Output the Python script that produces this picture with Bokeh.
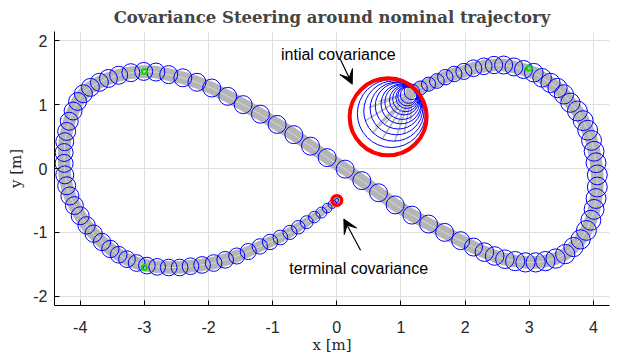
from bokeh.plotting import figure
from bokeh.models import Range1d, FixedTicker, Label, Arrow, VeeHead, ColumnDataSource
from bokeh.embed import file_html
from bokeh.resources import INLINE

# ---------------- data ----------------
# initial covariance: nested shrinking circles
init_x = [0.80, 0.85, 0.89, 0.93, 0.96, 1.00, 1.02, 1.05, 1.07, 1.09, 1.10, 1.12]
init_y = [0.81, 0.86, 0.90, 0.94, 0.98, 1.01, 1.04, 1.07, 1.09, 1.11, 1.13, 1.15]
init_r = [0.60, 0.53, 0.47, 0.41, 0.36, 0.31, 0.27, 0.23, 0.20, 0.17, 0.15, 0.13]

# covariance circles along the trajectory (centres and radii)
path_x = [1.17, 1.30, 1.43, 1.56, 1.69, 1.83, 1.98, 2.13, 2.29, 2.45, 2.60, 2.76, 2.91, 3.07,
          3.20, 3.33, 3.44, 3.54, 3.64, 3.75, 3.84, 3.91, 3.97, 4.01, 4.04, 4.06, 4.06, 4.04,
          4.01, 3.96, 3.89, 3.80, 3.69, 3.56, 3.41, 3.25, 3.10, 2.94, 2.78, 2.62, 2.46, 2.30,
          2.13, 1.93, 1.68, 1.43, 1.17, 0.91, 0.65, 0.39, 0.13, -0.15, -0.41, -0.67, -0.93,
          -1.19, -1.46, -1.70, -1.95, -2.18, -2.40, -2.62, -2.82, -3.01, -3.21, -3.40, -3.56,
          -3.70, -3.84, -3.95, -4.04, -4.11, -4.17, -4.21, -4.24, -4.25, -4.25, -4.24, -4.21,
          -4.16, -4.09, -4.00, -3.90, -3.79, -3.66, -3.53, -3.40, -3.27, -3.12, -2.96, -2.80,
          -2.62, -2.45, -2.28, -2.10, -1.92, -1.74, -1.56, -1.38, -1.20, -1.04, -0.88, -0.73,
          -0.60, -0.47, -0.35, -0.24, -0.15, -0.07]
path_y = [1.20, 1.26, 1.32, 1.37, 1.43, 1.48, 1.52, 1.57, 1.60, 1.62, 1.62, 1.59, 1.55, 1.50,
          1.42, 1.34, 1.26, 1.16, 1.03, 0.90, 0.75, 0.60, 0.44, 0.27, 0.09, -0.10, -0.29, -0.47,
          -0.64, -0.81, -0.97, -1.11, -1.23, -1.34, -1.41, -1.45, -1.47, -1.47, -1.45, -1.42,
          -1.37, -1.31, -1.23, -1.13, -1.00, -0.87, -0.73, -0.57, -0.38, -0.19, -0.01, 0.17,
          0.35, 0.53, 0.69, 0.85, 1.00, 1.13, 1.26, 1.35, 1.42, 1.47, 1.51, 1.52, 1.50, 1.46,
          1.41, 1.35, 1.27, 1.17, 1.05, 0.90, 0.74, 0.58, 0.42, 0.25, 0.08, -0.10, -0.27, -0.43,
          -0.58, -0.74, -0.89, -1.02, -1.15, -1.26, -1.35, -1.42, -1.48, -1.52, -1.54, -1.55,
          -1.55, -1.53, -1.51, -1.48, -1.43, -1.37, -1.30, -1.22, -1.15, -1.08, -1.00, -0.92,
          -0.84, -0.76, -0.69, -0.62, -0.56]
path_r = [0.12, 0.11, 0.11, 0.115, 0.12, 0.12, 0.125, 0.13, 0.13, 0.135, 0.14, 0.14, 0.14, 0.145,
          0.145, 0.15, 0.15, 0.15, 0.15, 0.155, 0.155, 0.155, 0.155, 0.155, 0.155, 0.155, 0.155,
          0.155, 0.155, 0.155, 0.155, 0.15, 0.15, 0.15, 0.15, 0.15, 0.15, 0.15, 0.15, 0.145,
          0.145, 0.145, 0.14, 0.14, 0.14, 0.14, 0.14, 0.14, 0.14, 0.14, 0.14, 0.14, 0.14, 0.14,
          0.14, 0.14, 0.14, 0.14, 0.14, 0.14, 0.14, 0.14, 0.14, 0.14, 0.14, 0.14, 0.14, 0.14,
          0.14, 0.14, 0.14, 0.14, 0.14, 0.14, 0.14, 0.14, 0.14, 0.14, 0.14, 0.14, 0.14, 0.14,
          0.135, 0.135, 0.135, 0.135, 0.13, 0.13, 0.13, 0.13, 0.13, 0.13, 0.13, 0.13, 0.13,
          0.13, 0.13, 0.125, 0.125, 0.12, 0.12, 0.115, 0.11, 0.105, 0.10, 0.09, 0.085, 0.075,
          0.065, 0.055]

# Monte Carlo samples leaving the initial covariance
sample_x = [0.45, 0.55, 0.70, 0.90, 1.05, 0.50, 0.65, 0.75, 0.95, 1.15, 0.60, 0.85]
sample_y = [0.75, 0.55, 0.45, 0.42, 0.55, 0.95, 1.05, 0.70, 0.70, 0.75, 0.65, 0.95]

# waypoints (green)
way_x = [-3.0, -3.0, 3.0]
way_y = [1.52, -1.55, 1.57]

# terminal covariance
term_x = [0.0]
term_y = [-0.50]
term_r = [0.075]

x_ticks = [-4, -3, -2, -1, 0, 1, 2, 3, 4]
x_tick_labels = ["-4", "-3", "-2", "-1", "0", "1", "2", "3", "4"]
y_ticks = [-2, -1, 0, 1, 2]
y_tick_labels = ["-2", "-1", "0", "1", "2"]

# ---------------- figure ----------------
p = figure(width=612, height=357, x_range=Range1d(-4.4, 4.25), y_range=Range1d(-2.145, 2.145),
           output_backend="svg", toolbar_location=None,
           min_border_left=54, min_border_right=3, min_border_top=30, min_border_bottom=52)
p.outline_line_color = None
p.background_fill_color = "white"

p.title.text = "Covariance Steering around nominal trajectory"
p.title.text_font = "DejaVu Serif"
p.title.text_font_style = "bold"
p.title.text_font_size = "16.5px"
p.title.align = "center"
p.title.standoff = 10

for ax in (p.xaxis[0], p.yaxis[0]):
    ax.axis_line_color = "black"
    ax.axis_line_width = 1
    ax.major_tick_in = 5
    ax.major_tick_out = 0
    ax.minor_tick_line_color = None
    ax.major_tick_line_color = "black"
    ax.major_label_text_font = "Liberation Sans"
    ax.major_label_text_font_size = "16px"
    ax.major_label_text_color = "#262626"
    ax.axis_label_text_font = "DejaVu Serif"
    ax.axis_label_text_font_style = "normal"
    ax.axis_label_text_font_size = "15px"
    ax.axis_label_text_color = "#262626"

p.xaxis.ticker = FixedTicker(ticks=x_ticks)
p.yaxis.ticker = FixedTicker(ticks=y_ticks)
p.xaxis.major_label_overrides = dict(zip(x_ticks, x_tick_labels))
p.yaxis.major_label_overrides = dict(zip(y_ticks, y_tick_labels))
p.xaxis.axis_label = "x [m]"
p.yaxis.axis_label = "y [m]"
p.xaxis.major_label_standoff = 15
p.yaxis.major_label_standoff = 7
p.xaxis.axis_label_standoff = 0
p.yaxis.axis_label_standoff = 5

p.xgrid.ticker = FixedTicker(ticks=x_ticks)
p.ygrid.ticker = FixedTicker(ticks=y_ticks)
p.grid.grid_line_color = "#dfdfdf"
p.grid.grid_line_width = 1

# gray band of sampled trajectories: constant-width main part, narrowing tail
n_main = 98
p.line(x=path_x[:n_main], y=path_y[:n_main], line_width=12.5, line_color="#b5b5b5", line_join="round", line_cap="round")
tail_xs, tail_ys, tail_w = [], [], []
tail_x = path_x[n_main - 1:] + term_x
tail_y = path_y[n_main - 1:] + term_y
tail_r = path_r[n_main - 1:] + term_r
for i in range(len(tail_x) - 1):
    tail_xs.append([tail_x[i], tail_x[i + 1]])
    tail_ys.append([tail_y[i], tail_y[i + 1]])
    tail_w.append(88 * 0.5 * (tail_r[i] + tail_r[i + 1]))
p.multi_line(xs="xs", ys="ys", line_width="w", line_color="#b5b5b5", line_cap="round",
             source=ColumnDataSource(dict(xs=tail_xs, ys=tail_ys, w=tail_w)))
# faint lighter streak through the band
p.line(x=path_x, y=path_y, line_width=1, line_color="#d6d6d6")

smp_xs = [[sx, path_x[0]] for sx in sample_x]
smp_ys = [[sy, path_y[0]] for sy in sample_y]
p.multi_line(xs=smp_xs, ys=smp_ys, line_color="#b5b5b5", line_width=1.5)

# covariance circles
p.circle(x=init_x, y=init_y, radius=init_r, fill_color=None, line_color="blue", line_width=1)
p.circle(x=path_x, y=path_y, radius=path_r, fill_color=None, line_color="blue", line_width=1)

# waypoints
p.scatter(x=way_x, y=way_y, marker="circle", size=5, fill_color=None, line_color="#00dd00", line_width=2)

# initial and terminal covariance in red
p.circle(x=init_x[:1], y=init_y[:1], radius=init_r[:1], fill_color=None, line_color="red", line_width=4)
p.circle(x=term_x, y=term_y, radius=term_r, fill_color=None, line_color="red", line_width=3.5)
p.circle(x=term_x, y=term_y, radius=[0.03], fill_color=None, line_color="blue", line_width=1)

# annotations
p.add_layout(Label(x=-0.87, y=1.785, text="intial covariance", text_font="Liberation Sans",
                   text_font_size="16px", text_color="black", text_baseline="alphabetic"))
p.add_layout(Label(x=-0.74, y=-1.57, text="terminal covariance", text_font="Liberation Sans",
                   text_font_size="16px", text_color="black", text_baseline="alphabetic"))
p.add_layout(Arrow(end=VeeHead(size=14, fill_color="black", line_color="black"),
                   x_start=0.055, y_start=1.71, x_end=0.24, y_end=1.32, line_width=1.2))
p.add_layout(Arrow(end=VeeHead(size=14, fill_color="black", line_color="black"),
                   x_start=0.37, y_start=-1.28, x_end=0.11, y_end=-0.79, line_width=1.2))

open("out.html", "w").write(file_html(p, INLINE))
